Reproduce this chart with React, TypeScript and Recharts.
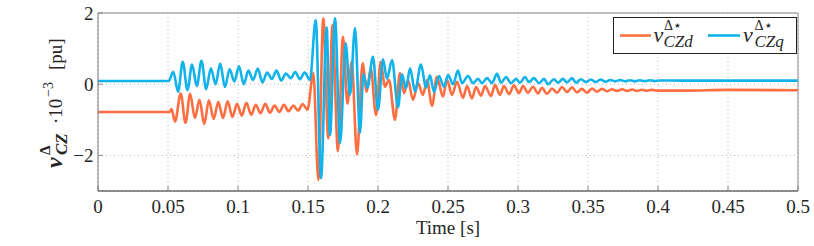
import React from 'react';
import { LineChart, Line, XAxis, YAxis, CartesianGrid, ReferenceLine } from 'recharts';

const xTicks = [0, 0.05, 0.1, 0.15, 0.2, 0.25, 0.3, 0.35, 0.4, 0.45, 0.5];
const yTicks = [-2, 0, 2];

// v_CZd (time [s], value [1e-3 pu]) read at peaks / troughs
const vCZd: [number, number][] = [
  [0, -0.78], [0.0512, -0.78], [0.0525, -0.7], [0.055, -1.05], [0.0591, -0.26], [0.0625, -1.09],
  [0.0658, -0.27], [0.0692, -0.95], [0.0725, -0.44], [0.0759, -1.12], [0.0792, -0.45], [0.0826, -0.98],
  [0.0859, -0.5], [0.0893, -0.95], [0.0926, -0.48], [0.096, -0.92], [0.0993, -0.55], [0.1027, -0.88],
  [0.106, -0.52], [0.1094, -0.86], [0.1127, -0.58], [0.1161, -0.82], [0.1194, -0.55], [0.1228, -0.8],
  [0.1261, -0.6], [0.1295, -0.78], [0.1328, -0.58], [0.1362, -0.76], [0.1395, -0.6], [0.1429, -0.74],
  [0.1462, -0.56], [0.1496, -0.72], [0.1538, 0.31], [0.1574, -2.69], [0.1609, 1.85], [0.1645, -1.52],
  [0.1675, 1.66], [0.1714, -1.88], [0.175, 1.33], [0.1782, -0.55], [0.1812, 0.63], [0.185, -1.97],
  [0.189, 0.59], [0.1919, -0.21], [0.1948, 0.45], [0.1986, -0.87], [0.2019, 0.63], [0.205, -0.07],
  [0.2079, 0.12], [0.2121, -1.0], [0.2157, 0.31], [0.2186, -0.25], [0.2214, 0.12], [0.225, -0.44],
  [0.2286, 0.03], [0.2321, -0.3], [0.235, 0.12], [0.2386, -0.61], [0.2421, 0.21], [0.2464, -0.35],
  [0.2493, 0.12], [0.2529, -0.3], [0.2564, 0.07], [0.2607, -0.38], [0.2636, -0.05], [0.2671, -0.4],
  [0.27, -0.08], [0.2736, -0.32], [0.2764, -0.05], [0.2807, -0.33], [0.2836, -0.02], [0.2871, -0.3],
  [0.29, -0.05], [0.2936, -0.28], [0.2971, -0.03], [0.3007, -0.25], [0.3036, -0.05], [0.3071, -0.24],
  [0.3107, -0.07], [0.3143, -0.26], [0.3171, -0.1], [0.3207, -0.27], [0.3243, -0.12], [0.3279, -0.24],
  [0.3314, -0.08], [0.335, -0.22], [0.3386, -0.09], [0.3421, -0.23], [0.3457, -0.13], [0.3493, -0.24],
  [0.3529, -0.12], [0.3564, -0.21], [0.36, -0.13], [0.3636, -0.2], [0.3671, -0.14], [0.3707, -0.19],
  [0.3743, -0.14], [0.378, -0.19], [0.3815, -0.15], [0.385, -0.19], [0.3885, -0.155], [0.392, -0.185],
  [0.3955, -0.16], [0.399, -0.18], [0.42, -0.18], [0.45, -0.16], [0.5, -0.17],
];

// v_CZq (time [s], value [1e-3 pu]) read at peaks / troughs
const vCZq: [number, number][] = [
  [0, 0.09], [0.0505, 0.09], [0.0538, 0.35], [0.0572, -0.21], [0.0605, 0.63], [0.0639, -0.16],
  [0.0672, 0.55], [0.0706, -0.05], [0.0739, 0.66], [0.0773, -0.14], [0.0806, 0.45], [0.084, 0.0],
  [0.0873, 0.58], [0.0907, -0.08], [0.094, 0.42], [0.0974, 0.08], [0.1007, 0.5], [0.1041, 0.0],
  [0.1074, 0.38], [0.1108, 0.12], [0.1141, 0.44], [0.1175, 0.05], [0.1208, 0.33], [0.1242, 0.15],
  [0.1275, 0.38], [0.1309, 0.1], [0.1342, 0.3], [0.1376, 0.17], [0.1409, 0.34], [0.1443, 0.14],
  [0.1476, 0.33], [0.1514, 0.12], [0.1555, 1.8], [0.1593, -2.64], [0.1633, 1.6], [0.1657, -1.43],
  [0.1693, 1.85], [0.1729, -1.65], [0.1769, 1.15], [0.18, -0.3], [0.1836, 1.58], [0.1871, -1.37],
  [0.1896, 0.28], [0.1924, -0.1], [0.1964, 0.77], [0.2, -0.72], [0.2036, 0.7], [0.2064, 0.15],
  [0.21, 0.68], [0.2143, -0.65], [0.2171, 0.28], [0.22, -0.12], [0.2229, 0.45], [0.2264, -0.2],
  [0.2307, 0.55], [0.2343, -0.1], [0.2371, 0.25], [0.24, -0.22], [0.2436, 0.23], [0.2471, -0.07],
  [0.25, 0.26], [0.2536, 0.0], [0.2571, 0.38], [0.26, 0.03], [0.2643, 0.23], [0.2679, 0.03],
  [0.2714, 0.15], [0.2743, 0.03], [0.2779, 0.17], [0.2814, 0.03], [0.285, 0.29], [0.2879, 0.04],
  [0.2914, 0.2], [0.295, 0.03], [0.2986, 0.15], [0.3014, 0.04], [0.305, 0.2], [0.3079, 0.06],
  [0.3114, 0.17], [0.315, 0.03], [0.3186, 0.15], [0.3214, 0.0], [0.3257, 0.14], [0.3286, 0.04],
  [0.3321, 0.15], [0.335, 0.05], [0.3386, 0.17], [0.3414, 0.04], [0.345, 0.14], [0.3486, 0.06],
  [0.352, 0.13], [0.3555, 0.06], [0.359, 0.13], [0.3625, 0.07], [0.366, 0.12], [0.3695, 0.08],
  [0.373, 0.12], [0.3765, 0.08], [0.38, 0.11], [0.3835, 0.08], [0.387, 0.11], [0.3905, 0.085],
  [0.394, 0.11], [0.3975, 0.09], [0.401, 0.105], [0.42, 0.1], [0.46, 0.1], [0.5, 0.1],
];

const toRows = (s: [number, number][]) => s.map(([t, v]) => ({ t, v }));

const FONT = "'Liberation Serif', 'Times New Roman', 'DejaVu Serif', serif";
const ORANGE = '#FF6E40';
const BLUE = '#12B2EA';
const TXT = '#262626';

const fmtY = (v: number) => (v < 0 ? '\u2212' + Math.abs(v) : String(v));

const tickStyle = { fill: TXT, fontSize: 19, fontFamily: FONT, style: { fontFamily: FONT } };

export default function App() {
  return (
    <div style={{ position: 'absolute', left: 0, top: 0, width: 814, height: 246, fontFamily: FONT, overflow: 'hidden' }}>
      <LineChart width={814} height={246} margin={{ top: 13, right: 16, bottom: 25, left: 58 }}>
        <CartesianGrid stroke="#b4b4b4" strokeDasharray="1 3" />
        <XAxis
          dataKey="t"
          type="number"
          domain={[0, 0.5]}
          ticks={xTicks}
          interval={0}
          height={30}
          tickSize={-5}
          tickMargin={14}
          axisLine={{ stroke: '#222' }}
          tickLine={{ stroke: '#888' }}
          tick={tickStyle}
        />
        <YAxis
          type="number"
          domain={[-3, 2]}
          ticks={yTicks}
          interval={0}
          width={40}
          tickSize={-5}
          tickMargin={9.5}
          tickFormatter={fmtY}
          axisLine={{ stroke: '#777' }}
          tickLine={{ stroke: '#888' }}
          tick={tickStyle}
        />
        <ReferenceLine y={2} stroke="#888" />
        <ReferenceLine x={0.5} stroke="#888" />
        <Line data={toRows(vCZd)} dataKey="v" type="monotone" stroke={ORANGE} strokeWidth={2.6} dot={false} isAnimationActive={false} />
        <Line data={toRows(vCZq)} dataKey="v" type="monotone" stroke={BLUE} strokeWidth={2.6} dot={false} isAnimationActive={false} />
      </LineChart>
      <svg width={814} height={246} style={{ position: 'absolute', left: 0, top: 0, pointerEvents: 'none', fontFamily: FONT }}>
        {/* x-axis label */}
        <text x={448} y={234} textAnchor="middle" fontSize={19} fill={TXT}>Time [s]</text>
        {/* y-axis label, rotated */}
        <g transform="translate(61.5,168) rotate(-90)" fill={TXT}>
          <text x={0} y={0} fontSize={24} fontWeight="bold" fontStyle="italic">v</text>
          <text x={13} y={-12} fontSize={15} fontWeight="bold">Δ</text>
          <text x={13} y={5} fontSize={17} fontWeight="bold" fontStyle="italic">CZ</text>
          <text x={44} y={0} fontSize={19}>·10</text>
          <text x={71} y={-9} fontSize={14}>−3</text>
          <text x={98} y={0} fontSize={19}>[pu]</text>
        </g>
        {/* legend */}
        <rect x={613.5} y={17.5} width={183} height={36} fill="#fff" stroke="#222" strokeWidth={1} />
        <line x1={620} x2={651} y1={35.5} y2={35.5} stroke={ORANGE} strokeWidth={2.6} />
        <text x={653.5} y={42} fontSize={22} fontStyle="italic" fill={TXT}>v</text>
        <text x={664} y={30} fontSize={14} fill={TXT}>Δ⋆</text>
        <text x={663.5} y={47} fontSize={17} fontStyle="italic" fill={TXT}>CZd</text>
        <line x1={708} x2={740} y1={35.5} y2={35.5} stroke={BLUE} strokeWidth={2.6} />
        <text x={743} y={42} fontSize={22} fontStyle="italic" fill={TXT}>v</text>
        <text x={754.5} y={30} fontSize={14} fill={TXT}>Δ⋆</text>
        <text x={754.5} y={47} fontSize={17} fontStyle="italic" fill={TXT}>CZq</text>
      </svg>
    </div>
  );
}
